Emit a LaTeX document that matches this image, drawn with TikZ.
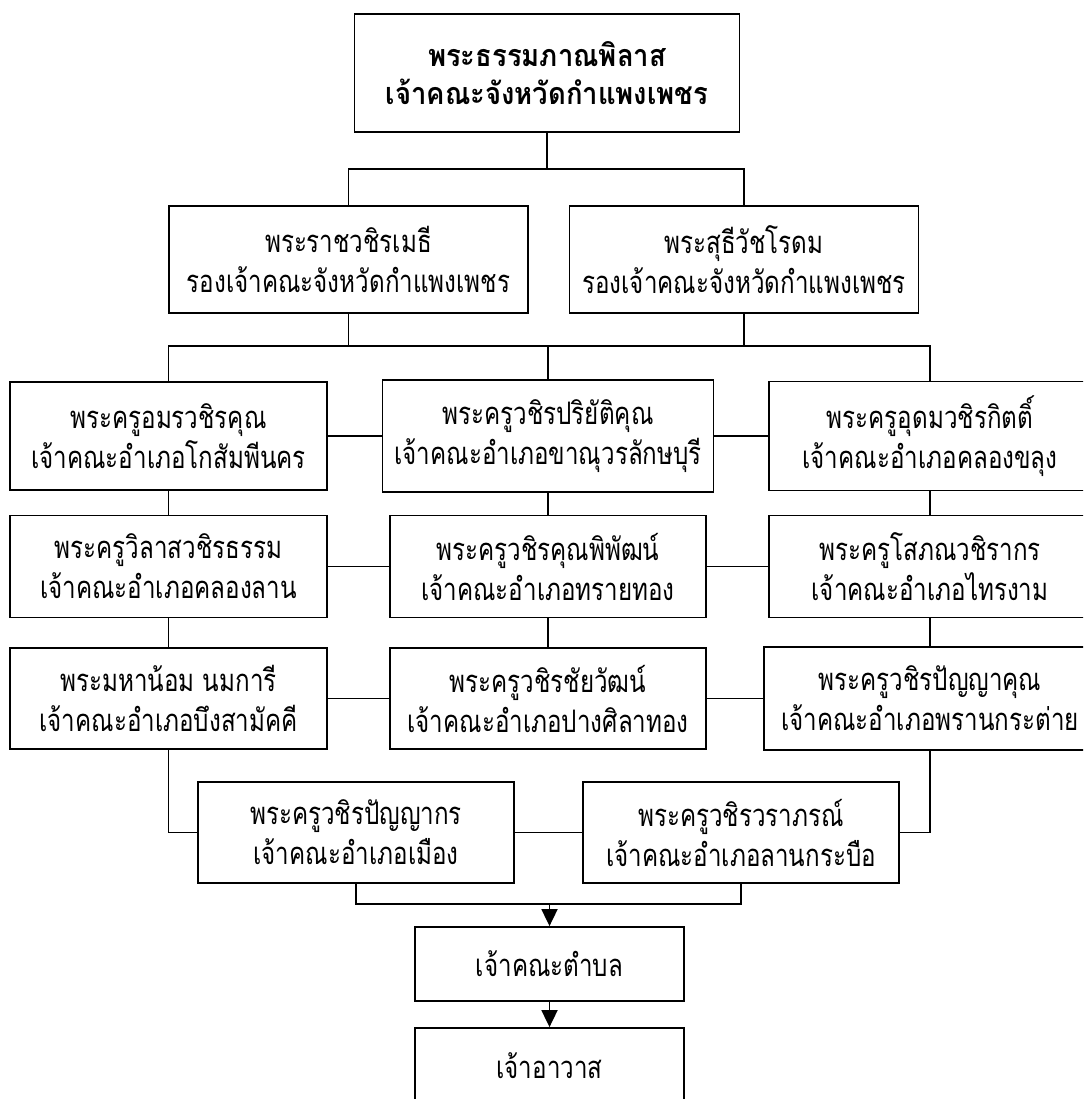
\documentclass[tikz,border=0pt]{standalone}
\usepackage{fontspec}
\newfontfamily\thaifont[Script=Thai, FakeStretch=0.78]{Loma}
\newfontfamily\thaihead[Script=Thai, FakeStretch=0.9]{Loma}
\usetikzlibrary{arrows.meta,positioning}
\tikzset{
every picture/.style={line width=1.8pt}, % lines as thick as the boxes
unitbox/.style={draw, rectangle, align=center, inner sep=0pt,
  font=\thaifont\fontsize{31}{40}\selectfont}, % one office
headbox/.style={unitbox, font=\thaihead\bfseries\fontsize{30.5}{38}\selectfont},
down/.style={-{Triangle[length=17pt,width=16pt]}}, % to the lower level
}

\begin{document}
\begin{tikzpicture}[x=1pt,y=1pt,yscale=-1,xscale=1]
\clip (0,0) rectangle (1083,1099);
%Province
\node[headbox, minimum width=385, minimum height=118] (head) at (547,73) {พระธรรมภาณพิลาส\\เจ้าคณะจังหวัดกำแพงเพชร};
%Deputies
\node[unitbox, minimum width=359, minimum height=107] (depL) at (348.5,259.5) {พระราชวชิรเมธี\\รองเจ้าคณะจังหวัดกำแพงเพชร};
\node[unitbox, minimum width=349, minimum height=107] (depR) at (744,259.5) {พระสุธีวัชโรดม\\รองเจ้าคณะจังหวัดกำแพงเพชร};
%Districts, row 1
\node[unitbox, minimum width=317, minimum height=108] (kosam) at (168.5,436) {พระครูอมรวชิรคุณ\\เจ้าคณะอำเภอโกสัมพีนคร};
\node[unitbox, minimum width=331, minimum height=112] (khanu) at (548,436) {พระครูวชิรปริยัติคุณ\\เจ้าคณะอำเภอขาณุวรลักษบุรี};
\node[unitbox, minimum width=322, minimum height=109] (khlung) at (930,436) {พระครูอุดมวชิรกิตติ์\\เจ้าคณะอำเภอคลองขลุง};
%Districts, row 2
\node[unitbox, minimum width=317, minimum height=102] (khlonglan) at (168.5,566.5) {พระครูวิลาสวชิรธรรม\\เจ้าคณะอำเภอคลองลาน};
\node[unitbox, minimum width=316, minimum height=102] (saithong) at (548,566.5) {พระครูวชิรคุณพิพัฒน์\\เจ้าคณะอำเภอทรายทอง};
\node[unitbox, minimum width=322, minimum height=102] (sai) at (930,566.5) {พระครูโสภณวชิรากร\\เจ้าคณะอำเภอไทรงาม};
%Districts, row 3
\node[unitbox, minimum width=317, minimum height=101] (bueng) at (168.5,698.5) {พระมหาน้อม นมการี\\เจ้าคณะอำเภอบึงสามัคคี};
\node[unitbox, minimum width=316, minimum height=101] (pang) at (548,698.5) {พระครูวชิรชัยวัฒน์\\เจ้าคณะอำเภอปางศิลาทอง};
\node[unitbox, minimum width=332, minimum height=103] (phran) at (930,698.5) {พระครูวชิรปัญญาคุณ\\เจ้าคณะอำเภอพรานกระต่าย};
%Districts, row 4
\node[unitbox, minimum width=316, minimum height=101] (mueang) at (356,832.5) {พระครูวชิรปัญญากร\\เจ้าคณะอำเภอเมือง};
\node[unitbox, minimum width=316, minimum height=101] (lankra) at (741,832.5) {พระครูวชิรวราภรณ์\\เจ้าคณะอำเภอลานกระบือ};
%Lower levels
\node[unitbox, minimum width=269, minimum height=74] (tambon) at (549.5,964) {เจ้าคณะตำบล};
\node[unitbox, minimum width=269, minimum height=76] (abbot) at (549.5,1066) {เจ้าอาวาส};
%Joints
\coordinate (j1) at (547,169);
\coordinate (j2) at (548,346);
\coordinate (j3) at (549.5,904);
%Connectors
\draw (head) -- (j1);
\draw (depL.north) -- (depL.north |- j1) -- (depR.north |- j1) -- (depR.north);
\draw (depL.south) -- (depL.south |- j2);
\draw (depR.south) -- (depR.south |- j2);
\draw (kosam.north) -- (kosam.north |- j2) -- (khlung.north |- j2) -- (khlung.north);
\draw (khanu.north) -- (khanu.north |- j2);
\draw (kosam) -- (khanu);
\draw (khanu) -- (khlung);
\draw (kosam) -- (khlonglan);
\draw (khanu) -- (saithong);
\draw (khlung) -- (sai);
\draw (khlonglan) -- (saithong);
\draw (saithong) -- (sai);
\draw (khlonglan) -- (bueng);
\draw (saithong) -- (pang);
\draw (sai) -- (phran);
\draw (bueng) -- (pang);
\draw (pang) -- (phran);
\draw (bueng.south) |- (mueang.west);
\draw (phran.south) |- (lankra.east);
\draw (mueang) -- (lankra);
\draw (mueang.south) |- (j3) -| (lankra.south);
\draw[down] (j3) -- (tambon.north);
\draw[down] (tambon) -- (abbot);
\end{tikzpicture}
\end{document}
